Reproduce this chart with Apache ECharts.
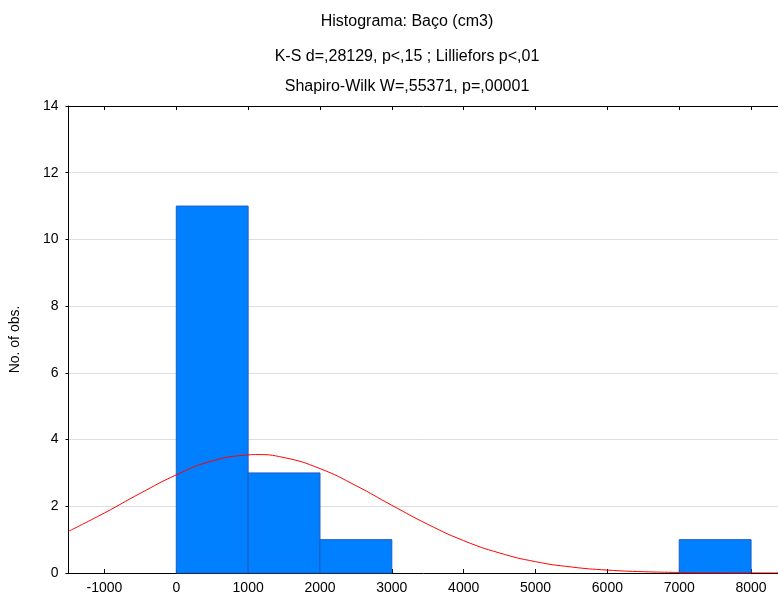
<!DOCTYPE html>
<html>
<head>
<meta charset="utf-8">
<script src="https://cdn.jsdelivr.net/npm/echarts@6/dist/echarts.min.js"></script>
<style>
html,body{margin:0;padding:0;background:#fff;}
#chart{width:778px;height:598px;}
</style>
</head>
<body>
<div id="chart"></div>
<script>
// Histogram bins (start, end, count)
const binStarts = [0, 1000, 2000, 7000];
const binEnds = [1000, 2000, 3000, 8000];
const binCounts = [11, 3, 1, 1];
// Fitted normal curve
const curveX = [-1500, -1000, -500, 0, 500, 1000, 1100, 1500, 2000, 2500, 3000, 3500, 4000, 4500, 5000, 5500, 6000, 6500, 7000, 7500, 8000, 8500];
const curveY = [1.25, 1.80, 2.39, 2.94, 3.36, 3.54, 3.55, 3.46, 3.13, 2.62, 2.03, 1.46, 0.97, 0.60, 0.34, 0.18, 0.087, 0.039, 0.017, 0.006, 0.002, 0.0006];
const xTicks = [-1000, 0, 1000, 2000, 3000, 4000, 5000, 6000, 7000, 8000];
const yTicks = [0, 2, 4, 6, 8, 10, 12, 14];
const titleLines = ['Histograma: Baço (cm3)', 'K-S d=,28129, p<,15 ; Lilliefors p<,01', 'Shapiro-Wilk W=,55371, p=,00001'];

const chart = echarts.init(document.getElementById('chart'));
const font = 'Liberation Sans, Arial, sans-serif';
const barData = binStarts.map((s, i) => [s, binEnds[i], binCounts[i]]);
const curveData = curveX.map((x, i) => [x, curveY[i]]);
const titleStyle = {fontFamily: font, fontSize: 16, fontWeight: 'normal', color: '#000'};

chart.setOption({
  animation: false,
  backgroundColor: '#fff',
  title: [
    {text: titleLines[0], left: 402, top: 9, textAlign: 'center', textStyle: titleStyle},
    {text: titleLines[1], left: 402, top: 44, textAlign: 'center', textStyle: titleStyle},
    {text: titleLines[2], left: 402, top: 74, textAlign: 'center', textStyle: titleStyle}
  ],
  grid: {left: 68.5, right: -9, top: 106, bottom: 25, containLabel: false, outerBoundsMode: 'none'},
  xAxis: [
    {
      type: 'value', position: 'bottom', min: -1500, max: 8500,
      axisLine: {show: true, onZero: false, lineStyle: {color: '#000', width: 1}},
      axisTick: {show: true, inside: true, length: 4, customValues: xTicks, lineStyle: {color: '#000'}},
      axisLabel: {show: true, customValues: xTicks, color: '#000', fontFamily: font, fontSize: 14, margin: 8,
        formatter: function (v) { return String(v); }},
      splitLine: {show: false}
    },
    {
      type: 'value', position: 'top', min: -1500, max: 8500,
      axisLine: {show: true, onZero: false, lineStyle: {color: '#000', width: 1}},
      axisTick: {show: true, inside: true, length: 4, customValues: xTicks, lineStyle: {color: '#000'}},
      axisLabel: {show: false},
      splitLine: {show: false}
    }
  ],
  yAxis: {
    type: 'value', min: 0, max: 14, interval: 2,
    name: 'No. of obs.', nameLocation: 'middle', nameGap: 46, nameRotate: 90,
    nameTextStyle: {fontFamily: font, fontSize: 14, color: '#000'},
    axisLine: {show: true, onZero: false, lineStyle: {color: '#000', width: 1}},
    axisTick: {show: true, inside: false, length: 3, lineStyle: {color: '#000'}},
    axisLabel: {color: '#000', fontFamily: font, fontSize: 14, margin: 10},
    splitLine: {show: true, lineStyle: {color: '#dedede', width: 1}}
  },
  series: [
    {
      type: 'custom',
      xAxisIndex: 0,
      data: barData,
      encode: {x: [0, 1], y: 2},
      renderItem: function (params, api) {
        const p0 = api.coord([api.value(0), api.value(2)]);
        const p1 = api.coord([api.value(1), 0]);
        return {
          type: 'rect',
          shape: {x: p0[0], y: p0[1], width: p1[0] - p0[0], height: p1[1] - p0[1]},
          style: {fill: '#0080ff', stroke: '#1f5cc4', lineWidth: 1}
        };
      },
      z: 2
    },
    {
      type: 'line',
      xAxisIndex: 0,
      data: curveData,
      smooth: true,
      showSymbol: false,
      lineStyle: {color: '#ff0000', width: 1},
      z: 3
    }
  ]
});
</script>
</body>
</html>
